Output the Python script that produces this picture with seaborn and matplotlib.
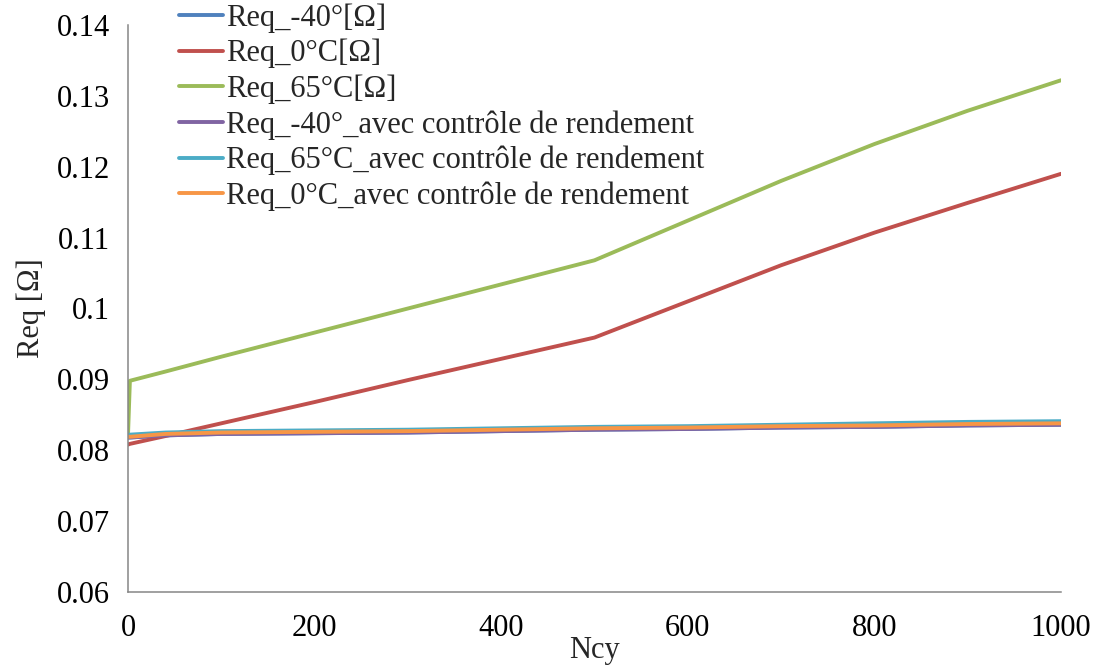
import numpy as np
import pandas as pd
import seaborn as sns
import matplotlib.pyplot as plt

# values
ncy = [0, 2, 40, 100, 200, 300, 400, 500, 600, 700, 800, 900, 1000]
req_m40 = [0.0818, 0.0818, 0.0821, 0.0823, 0.0824, 0.0825, 0.0827, 0.0829, 0.0830, 0.0832, 0.0833, 0.0835, 0.0836]
req_0c = [0.0808, 0.0809, 0.0820, 0.0838, 0.0868, 0.0899, 0.0929, 0.0959, 0.1010, 0.1061, 0.1107, 0.1149, 0.1190]
req_65c = [0.0823, 0.0898, 0.0911, 0.0932, 0.0966, 0.1000, 0.1034, 0.1068, 0.1124, 0.1180, 0.1232, 0.1279, 0.1322]
req_m40_ctrl = [0.0818, 0.0818, 0.0821, 0.0823, 0.0824, 0.0825, 0.0827, 0.0829, 0.0830, 0.0832, 0.0833, 0.0835, 0.0836]
req_65c_ctrl = [0.0822, 0.0822, 0.0825, 0.0827, 0.0828, 0.0829, 0.0831, 0.0833, 0.0834, 0.0836, 0.0838, 0.0840, 0.0841]
req_0c_ctrl = [0.0819, 0.0819, 0.0823, 0.0825, 0.0826, 0.0827, 0.0829, 0.0831, 0.0832, 0.0834, 0.0835, 0.0837, 0.0838]

labels = ["Req_-40°[Ω]", "Req_0°C[Ω]", "Req_65°C[Ω]",
          "Req_-40°_avec contrôle de rendement",
          "Req_65°C_avec contrôle de rendement",
          "Req_0°C_avec contrôle de rendement"]
colors = ["#4F81BD", "#C0504D", "#9BBB59", "#8064A2", "#4BACC6", "#F79646"]
series = [req_m40, req_0c, req_65c, req_m40_ctrl, req_65c_ctrl, req_0c_ctrl]

frames = []
for lab, vals in zip(labels, series):
    frames.append(pd.DataFrame({"Ncy": ncy, "Req": vals, "serie": lab}))
df = pd.concat(frames, ignore_index=True)

sns.set_style("white")
plt.rcParams["font.family"] = ["Liberation Serif", "DejaVu Serif"]

fig = plt.figure(figsize=(10.98, 6.66), dpi=100)
ax = fig.add_axes([0.1166, 0.1111, 0.8497, 0.8514])

sns.lineplot(data=df, x="Ncy", y="Req", hue="serie", hue_order=labels,
             palette=colors, estimator=None, sort=False, linewidth=2.8, ax=ax)

ax.set_xlim(0, 1000)
ax.set_ylim(0.06, 0.14)
ax.set_xticks([0, 200, 400, 600, 800, 1000])
ax.set_yticks([0.06, 0.07, 0.08, 0.09, 0.1, 0.11, 0.12, 0.13, 0.14])
ax.set_yticklabels(["0.06", "0.07", "0.08", "0.09", "0.1", "0.11", "0.12", "0.13", "0.14"])
ax.tick_params(axis="both", labelsize=22, colors="#868686", labelcolor="black",
               length=7, width=1.1, direction="out")
ax.tick_params(axis="x", pad=9)
ax.tick_params(axis="y", pad=6)
for s in ["top", "right"]:
    ax.spines[s].set_visible(False)
for s in ["left", "bottom"]:
    ax.spines[s].set_color("#868686")
    ax.spines[s].set_linewidth(1.1)

ax.set_xlabel("Ncy", fontsize=22, labelpad=-5)
ax.set_ylabel("Req [Ω]", fontsize=22, labelpad=8)

handles, labs = ax.get_legend_handles_labels()
ax.legend(handles, labs, loc="upper left", bbox_to_anchor=(0.163, 0.995),
          bbox_transform=fig.transFigure, frameon=False, fontsize=22,
          handlelength=1.45, handletextpad=0.1, labelspacing=0.2,
          borderpad=0, borderaxespad=0)

fig.savefig("out.png", dpi=100)
